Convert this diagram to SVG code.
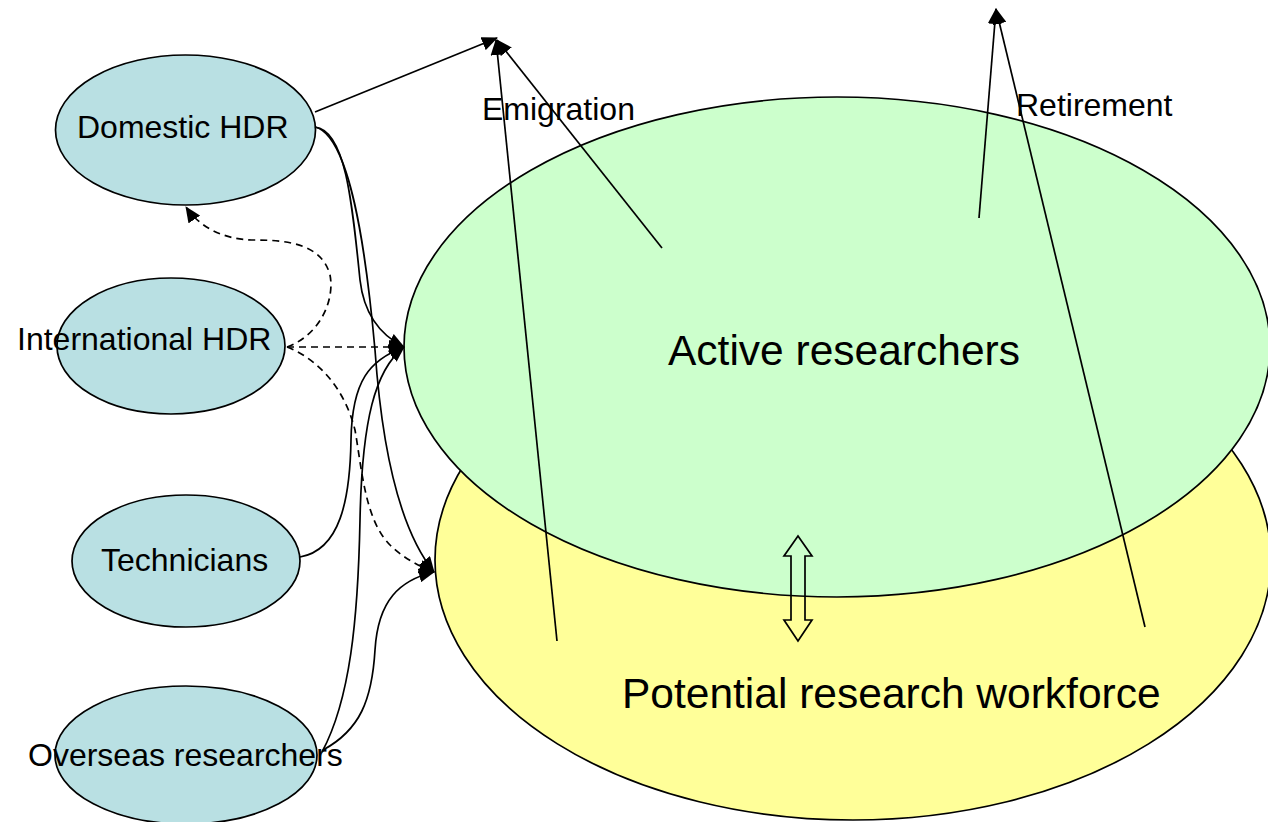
<svg xmlns="http://www.w3.org/2000/svg" width="1268" height="822" viewBox="0 0 1268 822">
  <style>
    .src { fill: #b9e0e3; stroke: #000; stroke-width: 1.7; }
    .active { fill: #ccffcc; stroke: #000; stroke-width: 1.7; }
    .potential { fill: #ffff99; stroke: #000; stroke-width: 1.7; }
    .lbl { font-family: "Liberation Sans", Arial, sans-serif; font-size: 32px; fill: #000; }
    .big { font-family: "Liberation Sans", Arial, sans-serif; font-size: 42.5px; fill: #000; }
    .flow { fill: none; stroke: #000; stroke-width: 1.7; marker-end: url(#head); }
    .dash { stroke-dasharray: 7 5; }
    .plain { fill: none; stroke: #000; stroke-width: 1.7; }
  </style>
  <defs>
    <marker id="head" viewBox="0 0 16 14" refX="15" refY="7" markerWidth="16" markerHeight="14" markerUnits="userSpaceOnUse" orient="auto">
      <path d="M0,0 L16,7 L0,14 Z" fill="#000"/>
    </marker>
  </defs>

  <rect width="1268" height="822" fill="#fff"/>

  <!-- stocks of researchers -->
  <g id="potential">
    <ellipse class="potential" cx="853" cy="560" rx="418" ry="260"/>
  </g>
  <g id="active">
    <ellipse class="active" cx="837" cy="347" rx="433" ry="250"/>
  </g>

  <!-- sources -->
  <g id="domestic-hdr">
    <ellipse class="src" cx="185.5" cy="130" rx="130" ry="75"/>
  </g>
  <g id="international-hdr">
    <ellipse class="src" cx="171" cy="346" rx="114" ry="68"/>
  </g>
  <g id="technicians">
    <ellipse class="src" cx="186" cy="561" rx="114" ry="66"/>
  </g>
  <g id="overseas-researchers">
    <ellipse class="src" cx="186" cy="755" rx="131" ry="69"/>
  </g>

  <!-- flows -->
  <g id="connectors">
    <!-- emigration -->
    <path class="flow" d="M315,112 L497,38"/>
    <path class="flow" d="M557,641 L496,40"/>
    <path class="flow" d="M662,248 L497,40"/>
    <!-- retirement -->
    <path class="flow" d="M979,218 L996,9"/>
    <path class="flow" d="M1145,627 L996,9"/>
    <!-- domestic HDR -->
    <path class="flow" d="M315,127 C345,130 352,200 360,280 C364,315 380,335 404,347"/>
    <path class="flow" d="M315,127 C350,135 366,250 375,350 C382,450 400,530 434,572"/>
    <!-- international HDR -->
    <path class="flow dash" d="M287,347 L404,347"/>
    <path class="flow dash" d="M287,347 C320,335 335,300 330,275 C322,245 290,240 255,240 C225,240 200,228 186,207"/>
    <path class="flow dash" d="M287,347 C320,360 345,390 355,430 C362,470 365,520 390,545 C402,557 418,566 434,572"/>
    <!-- technicians -->
    <path class="flow" d="M300,557 C340,550 350,500 351,440 C352,380 370,360 404,347"/>
    <!-- overseas researchers -->
    <path class="flow" d="M322,752 C350,700 358,620 360,520 C362,420 375,370 404,347"/>
    <path class="flow" d="M323,750 C360,730 372,700 375,650 C378,600 400,580 434,572"/>
    <!-- two-way exchange -->
    <polygon class="plain" points="798,536 812,556 805,556 805,620 812,620 798,641 784,620 791,620 791,556 784,556"/>
  </g>

  <!-- labels -->
  <text class="lbl" x="77" y="138">Domestic HDR</text>
  <text class="lbl" x="17" y="350">International HDR</text>
  <text class="lbl" x="101" y="571">Technicians</text>
  <text class="lbl" x="28" y="766">Overseas researchers</text>
  <text class="lbl" x="482" y="120">Emigration</text>
  <text class="lbl" x="1016" y="116">Retirement</text>
  <text class="big" x="668" y="365">Active researchers</text>
  <text class="big" x="622" y="708">Potential research workforce</text>
</svg>
